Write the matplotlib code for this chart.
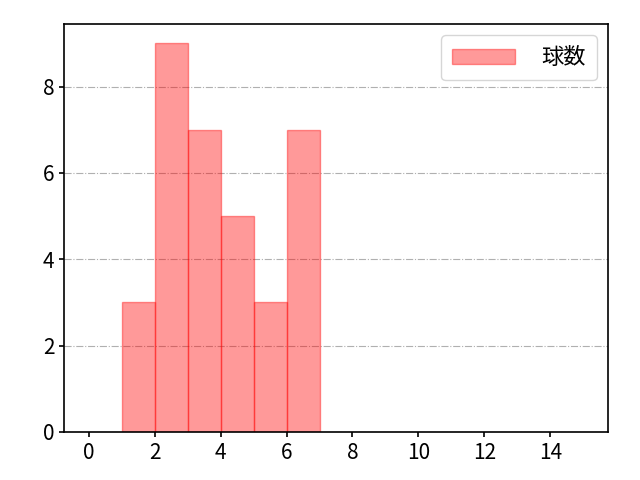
import numpy as np
import matplotlib
matplotlib.use("Agg")
import matplotlib.pyplot as plt

plt.rcParams['font.family'] = ['Noto Sans CJK JP', 'DejaVu Sans']

# histogram bins (left edges) and counts
bin_edges = [1, 2, 3, 4, 5, 6, 7]
counts = [3, 9, 7, 5, 3, 7]
label = "球数"

fig, ax = plt.subplots(figsize=(6.4, 4.8), dpi=100)
ax.hist(bin_edges[:-1], bins=bin_edges, weights=counts,
        facecolor='red', edgecolor='red', alpha=0.4, linewidth=1.0, label=label)
ax.grid(axis='y', linestyle='-.', color='#b0b0b0', linewidth=0.8)
ax.set_axisbelow(True)
ax.set_xlim(-0.75, 15.75)
ax.set_ylim(0, 9.45)
ax.set_xticks(np.arange(0, 16, 2))
ax.set_yticks([0, 2, 4, 6, 8])
ax.tick_params(labelsize=15, width=1.2)
for s in ax.spines.values():
    s.set_linewidth(1.2)
ax.legend(loc='upper right', fontsize=16, handlelength=2.8, handletextpad=1.2,
          borderpad=0.5)
fig.subplots_adjust(left=0.1, right=0.95, top=0.95, bottom=0.1)
fig.savefig("out.png")
